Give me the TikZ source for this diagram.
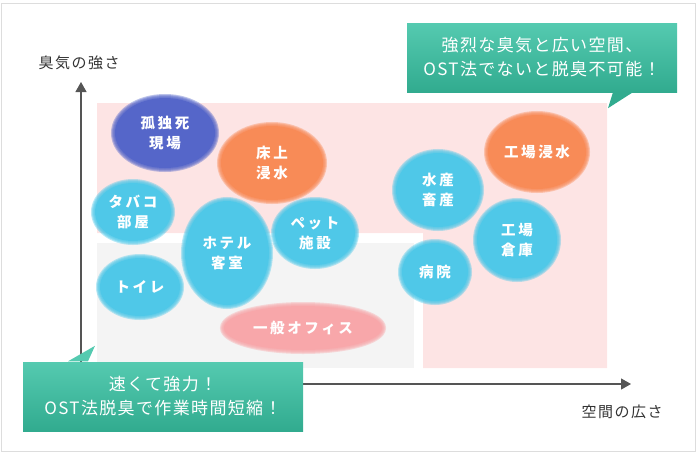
\documentclass[tikz,border=0pt]{standalone}
\usepackage{fontspec}
\usetikzlibrary{shapes.geometric,arrows.meta}
\newfontfamily\jpblob{Noto Sans CJK JP}[LetterSpace=18]
\newfontfamily\jpcall{Noto Sans CJK JP}[LetterSpace=8]
\newfontfamily\jpaxis{Noto Sans CJK JP}[LetterSpace=10]
\definecolor{framec}{HTML}{DDDDDD}
\definecolor{pinkbg}{HTML}{FDE4E4}
\definecolor{graybg}{HTML}{F4F4F4}
\definecolor{axisc}{HTML}{555555}
\definecolor{labelc}{HTML}{333333}
\definecolor{cyanb}{HTML}{4FC8E8}
\definecolor{blueb}{HTML}{5566C9}
\definecolor{orangeb}{HTML}{F88B57}
\definecolor{pinkb}{HTML}{F8A7AA}
\definecolor{tealtop}{HTML}{55CAB0}
\definecolor{tealbot}{HTML}{31AB8F}
\tikzset{
  blob/.style={ellipse, fill=#1, inner sep=0pt, text=white, align=center,
    font=\jpblob\bfseries\fontsize{14.5}{20}\selectfont,
    preaction={draw=#1, draw opacity=.4, line width=8pt},
    preaction={draw=#1, draw opacity=.4, line width=6pt},
    preaction={draw=#1, draw opacity=.4, line width=4pt},
    preaction={draw=#1, draw opacity=.4, line width=2pt}},
  callout/.style={rectangle, inner sep=0pt, top color=tealtop, bottom color=tealbot,
    text=white, align=center, font=\jpcall\fontsize{17}{24}\selectfont},
  axislabel/.style={text=labelc, font=\jpaxis\fontsize{15}{18}\selectfont, inner sep=0pt},
  axisline/.style={draw=axisc, line width=1.2pt, -{Triangle[length=10pt,width=11pt]}}
}
\begin{document}
\begin{tikzpicture}[x=1pt,y=-1pt]
\useasboundingbox (0,0) rectangle (700,455);
% frame
\draw[framec, line width=1pt] (1.5,3) rectangle (695,451);
% background regions
\fill[pinkbg] (97,103) -- (607,103) -- (607,368) -- (423,368) -- (423,233) -- (97,233) -- cycle;
\fill[graybg] (97,243) rectangle (414,368);
% axes
\coordinate (origin) at (81,384);
\coordinate (ytip) at (81,82);
\coordinate (xtip) at (631,384);
\draw[axisline] (origin) -- (ytip);
\draw[axisline] (origin) -- (xtip);
\node[axislabel] (ylabel) at (79,63) {臭気の強さ};
\node[axislabel] (xlabel) at (622,412) {空間の広さ};
% blobs
\node[blob=blueb, minimum width=100pt, minimum height=70pt] (kodoku) at (165,133) {孤独死\\現場};
\node[blob=orangeb, minimum width=102pt, minimum height=74pt] (yukaue) at (272,163) {床上\\浸水};
\node[blob=cyanb, minimum width=76pt, minimum height=58pt] (tabako) at (133,212) {タバコ\\部屋};
\node[blob=cyanb, minimum width=84pt, minimum height=104pt] (hotel) at (227,253) {ホテル\\客室};
\node[blob=cyanb, minimum width=80pt, minimum height=64pt] (pet) at (315,233) {ペット\\施設};
\node[blob=cyanb, minimum width=80pt, minimum height=58pt] (toilet) at (140,287) {トイレ};
\node[blob=pinkb, minimum width=158pt, minimum height=44pt] (office) at (303,328) {一般オフィス};
\node[blob=orangeb, minimum width=98pt, minimum height=74pt] (kojoshinsui) at (537,152) {工場浸水};
\node[blob=cyanb, minimum width=84pt, minimum height=74pt] (suisan) at (438,190) {水産\\畜産};
\node[blob=cyanb, minimum width=80pt, minimum height=76pt] (soko) at (517,240) {工場\\倉庫};
\node[blob=cyanb, minimum width=66pt, minimum height=58pt] (byoin) at (435,272) {病院};
% callouts
\node[callout, minimum width=270pt, minimum height=69pt] (calloutA) at (542,57.5)
  {強烈な臭気と広い空間、\\OST法でないと脱臭不可能！};
\fill[tealbot] ([xshift=71pt]calloutA.south) -- ([xshift=66pt,yshift=-16pt]calloutA.south) -- ([xshift=91pt]calloutA.south) -- cycle;
\node[callout, minimum width=280pt, minimum height=69pt] (calloutB) at (163,396.5)
  {速くて強力！\\OST法脱臭で作業時間短縮！};
\fill[tealtop] ([xshift=-95pt,yshift=0.5pt]calloutB.north) -- ([xshift=-68pt,yshift=16pt]calloutB.north) -- ([xshift=-75pt,yshift=0.5pt]calloutB.north) -- cycle;
\end{tikzpicture}
\end{document}
